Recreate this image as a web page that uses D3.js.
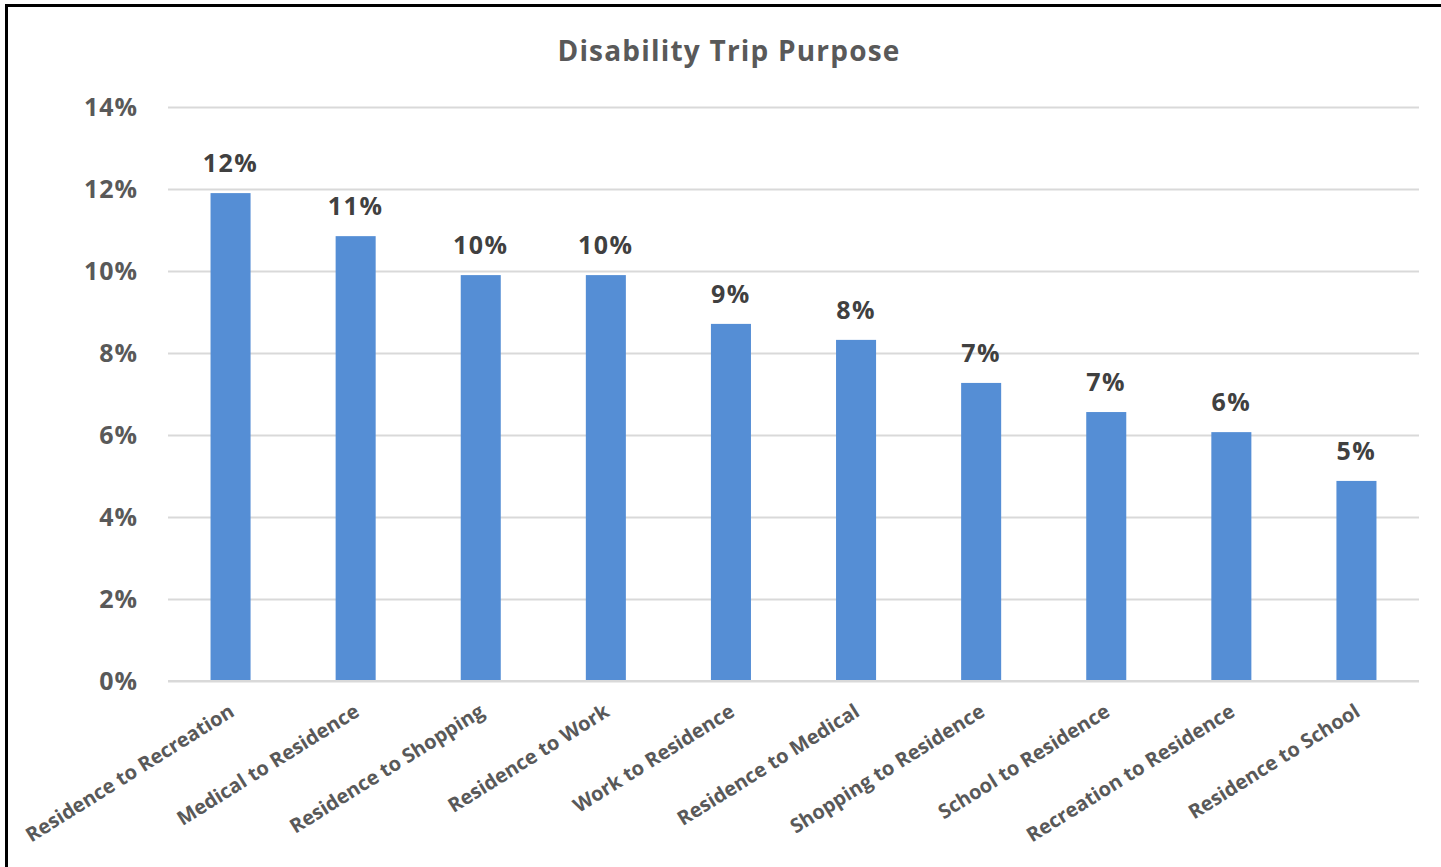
<!DOCTYPE html>
<html>
<head>
<meta charset="utf-8">
<script src="https://cdn.jsdelivr.net/npm/d3@7"></script>
<style>
  html, body { margin: 0; padding: 0; background: #fff; }
  svg { display: block; }
  text { font-family: "Open Sans", Lato, sans-serif; font-weight: bold; }
</style>
</head>
<body>
<svg id="chart" width="1441" height="867"></svg>
<script>
// Trip purposes and their share of disability trips
const categories = [
  "Residence to Recreation", "Medical to Residence", "Residence to Shopping",
  "Residence to Work", "Work to Residence", "Residence to Medical",
  "Shopping to Residence", "School to Residence", "Recreation to Residence",
  "Residence to School"
];
const shares = [0.119, 0.1085, 0.099, 0.099, 0.0871, 0.0832, 0.0727, 0.0656, 0.0607, 0.0488];
const yTicks = [0, 0.02, 0.04, 0.06, 0.08, 0.10, 0.12, 0.14];
const title = "Disability Trip Purpose";

const FONT = "'Open Sans', Lato, sans-serif";
const svg = d3.select("#chart");
const W = 1441, H = 867;
const m = { left: 168, right: 22, top: 107, bottom: 186 };

// Outer frame
svg.append("rect")
  .attr("x", 6.5).attr("y", 5.5)
  .attr("width", W + 20).attr("height", H + 20)
  .attr("fill", "#fff").attr("stroke", "#000").attr("stroke-width", 3);

const x = d3.scaleBand().domain(categories)
  .range([m.left, W - m.right]).paddingInner(0.68).paddingOuter(0.34);
const y = d3.scaleLinear().domain([0, 0.14]).range([H - m.bottom, m.top]);

// Title
svg.append("text")
  .attr("x", 729).attr("y", 61)
  .attr("text-anchor", "middle")
  .attr("font-size", 28).attr("letter-spacing", 1.2).attr("fill", "#595959")
  .text(title);

// Gridlines + y axis labels
const yAxis = d3.axisLeft(y).tickValues(yTicks)
  .tickFormat(d3.format(".0%"))
  .tickSize(-(W - m.left - m.right)).tickPadding(30);
const gy = svg.append("g").attr("transform", `translate(${m.left},0)`).call(yAxis);
gy.select(".domain").remove();
gy.selectAll(".tick line").attr("stroke", "#d9d9d9").attr("stroke-width", 2);
gy.selectAll(".tick text").attr("font-size", 25).attr("letter-spacing", 1).attr("fill", "#595959")
  .attr("font-family", FONT).attr("font-weight", "bold");

// Bars
svg.append("g").selectAll("rect").data(categories).join("rect")
  .attr("x", d => x(d))
  .attr("width", x.bandwidth())
  .attr("y", (d, i) => y(shares[i]))
  .attr("height", (d, i) => y(0) - y(shares[i]))
  .attr("fill", "#558ed5");

// Value labels
svg.append("g").selectAll("text").data(categories).join("text")
  .attr("x", d => x(d) + x.bandwidth() / 2)
  .attr("y", (d, i) => y(shares[i]) - 21)
  .attr("text-anchor", "middle")
  .attr("font-size", 25).attr("letter-spacing", 1.5).attr("fill", "#404040")
  .text((d, i) => d3.format(".0%")(shares[i]));

// Baseline
svg.append("line")
  .attr("x1", m.left).attr("x2", W - m.right)
  .attr("y1", y(0)).attr("y2", y(0))
  .attr("stroke", "#d9d9d9").attr("stroke-width", 2);

// Category labels, rotated
const xAxis = d3.axisBottom(x).tickSize(0).tickPadding(0);
const gx = svg.append("g").attr("transform", `translate(0,${y(0)})`).call(xAxis);
gx.select(".domain").remove();
gx.selectAll(".tick text")
  .attr("font-size", 20).attr("fill", "#595959")
  .attr("font-family", FONT).attr("font-weight", "bold")
  .attr("text-anchor", "end")
  .attr("dy", null)
  .attr("transform", "translate(5,34) rotate(-32)");
</script>
</body>
</html>
